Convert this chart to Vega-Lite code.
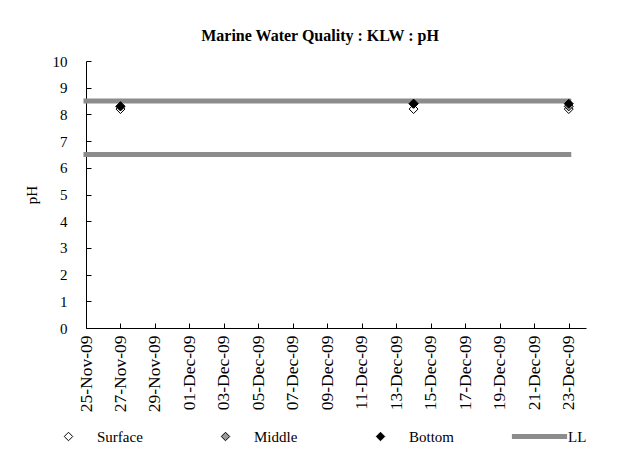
{
  "$schema": "https://vega.github.io/schema/vega-lite/v6.json",
  "autosize": "none",
  "width": 500,
  "height": 267,
  "padding": {"left": 86, "top": 61, "right": 34, "bottom": 130},
  "background": "white",
  "config": {
    "font": "Liberation Serif",
    "view": {"stroke": null},
    "axis": {"labelFont": "Liberation Serif", "titleFont": "Liberation Serif", "labelColor": "black", "titleColor": "black", "domainColor": "black", "tickColor": "black", "grid": false},
    "legend": {"labelFont": "Liberation Serif", "labelColor": "black"}
  },
  "title": {"text": "Marine Water Quality : KLW : pH", "font": "Liberation Serif", "fontSize": 16, "fontWeight": "bold", "color": "black", "offset": 10, "dx": -16},
  "datasets": {
    "samples": [
      {"date": "2009-11-27T00:00:00", "depth": "Surface", "pH": 8.2},
      {"date": "2009-11-27T00:00:00", "depth": "Middle", "pH": 8.3},
      {"date": "2009-11-27T00:00:00", "depth": "Bottom", "pH": 8.3},
      {"date": "2009-12-14T00:00:00", "depth": "Surface", "pH": 8.2},
      {"date": "2009-12-14T00:00:00", "depth": "Middle", "pH": 8.4},
      {"date": "2009-12-14T00:00:00", "depth": "Bottom", "pH": 8.4},
      {"date": "2009-12-23T00:00:00", "depth": "Surface", "pH": 8.2},
      {"date": "2009-12-23T00:00:00", "depth": "Middle", "pH": 8.3},
      {"date": "2009-12-23T00:00:00", "depth": "Bottom", "pH": 8.4}
    ],
    "limits": [
      {"date": "2009-11-25T00:00:00", "series": "LL", "limit": "lower", "pH": 6.5},
      {"date": "2009-12-23T00:00:00", "series": "LL", "limit": "lower", "pH": 6.5},
      {"date": "2009-11-25T00:00:00", "series": "LL", "limit": "upper", "pH": 8.5},
      {"date": "2009-12-23T00:00:00", "series": "LL", "limit": "upper", "pH": 8.5}
    ]
  },
  "encoding": {
    "x": {
      "field": "date", "type": "temporal",
      "scale": {"domain": [{"year": 2009, "month": 11, "date": 25}, {"year": 2009, "month": 12, "date": 24}]},
      "axis": {"title": null, "format": "%d-%b-%y", "tickCount": {"interval": "day", "step": 2}, "labelAngle": 270, "labelAlign": "right", "labelBaseline": "middle", "labelFontSize": 17.5, "tickSize": -5, "labelPadding": 12, "labelFlush": false, "labelOverlap": false}
    },
    "y": {
      "field": "pH", "type": "quantitative",
      "scale": {"domain": [0, 10], "nice": false, "zero": true},
      "axis": {"title": "pH", "titleFontSize": 15, "titleFontWeight": "normal", "titlePadding": 13, "labelFontSize": 15, "tickCount": 10, "tickSize": -5, "labelPadding": 24}
    }
  },
  "layer": [
    {
      "data": {"name": "limits"},
      "mark": {"type": "line", "strokeWidth": 5, "strokeCap": "square"},
      "encoding": {
        "detail": {"field": "limit"},
        "stroke": {"field": "series", "type": "nominal", "scale": {"domain": ["LL"], "range": ["#8c8c8c"]},
          "legend": {"title": null, "orient": "none", "legendX": 446, "legendY": 368, "symbolType": "M-6.9,-0.6L6.9,-0.6L6.9,0.6L-6.9,0.6Z", "symbolSize": 64, "symbolFillColor": "#8c8c8c", "symbolStrokeWidth": 0, "labelOffset": 21, "labelFontSize": 15, "padding": 0}}
      }
    },
    {
      "data": {"name": "samples"},
      "mark": {"type": "point", "shape": "diamond", "filled": true, "stroke": "black", "size": 80, "strokeWidth": 1, "opacity": 1},
      "encoding": {
        "fill": {"field": "depth", "type": "nominal", "scale": {"domain": ["Surface", "Middle", "Bottom"], "range": ["white", "#999999", "black"]},
          "legend": {"title": null, "orient": "none", "legendX": -25, "legendY": 368, "direction": "horizontal", "columns": 3, "columnPadding": 75, "gridAlign": "none", "labelOffset": 21, "symbolType": "diamond", "symbolSize": 72, "symbolStrokeColor": "black", "symbolStrokeWidth": 1, "labelFontSize": 15, "labelLimit": 200, "padding": 0}},
        "order": {"field": "depth", "sort": "descending"}
      }
    }
  ]
}
